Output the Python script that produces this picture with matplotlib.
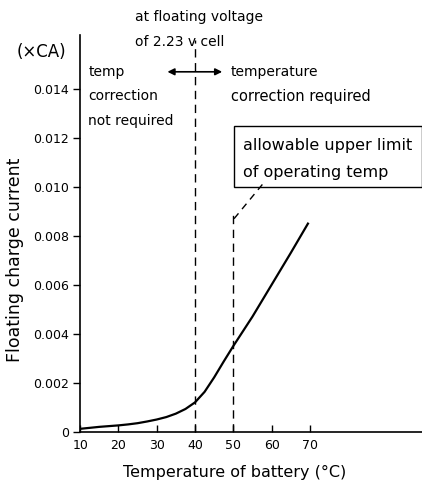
import matplotlib
matplotlib.use("Agg")
import matplotlib.pyplot as plt
from matplotlib.patches import Rectangle

plt.rcParams['font.family'] = ['DejaVu Sans']

# curve
temps = [10, 12.5, 15, 17.5, 20, 22.5, 25, 27.5, 30, 32.5, 35, 37.5, 40,
         42.5, 45, 47.5, 50, 52.5, 55, 60, 65, 69.5]
current = [0.00012, 0.00016, 0.0002, 0.00023, 0.00026, 0.0003, 0.00035,
           0.00042, 0.0005, 0.0006, 0.00074, 0.00093, 0.0012, 0.00163,
           0.00222, 0.00287, 0.0035, 0.0041, 0.0047, 0.006, 0.0073, 0.0085]

xticks = [10, 20, 30, 40, 50, 60, 70]
yticks = [0, 0.002, 0.004, 0.006, 0.008, 0.010, 0.012, 0.014]
ytick_labels = ["0", "0.002", "0.004", "0.006", "0.008", "0.010", "0.012", "0.014"]

fig = plt.figure(figsize=(4.22, 4.94), dpi=100)
ax = fig.add_axes([0.19, 0.126, 0.81, 0.803])

ax.plot(temps, current, color='black', lw=1.6)

ax.set_xlim(10, 99.3)
ax.set_ylim(0, 0.0162)
ax.spines['top'].set_visible(False)
ax.spines['right'].set_visible(False)
ax.spines['left'].set_linewidth(1.2)
ax.spines['bottom'].set_linewidth(1.2)

ax.set_xticks(xticks)
ax.set_xticklabels([str(t) for t in xticks], fontsize=9)
ax.set_yticks(yticks)
ax.set_yticklabels(ytick_labels, fontsize=9)
ax.tick_params(axis='x', direction='in', length=5, width=1, pad=5)
ax.tick_params(axis='y', direction='out', length=5, width=1, pad=3)

ax.set_xlabel("Temperature of battery (°C)", fontsize=11.5)
ax.set_ylabel("Floating charge current", fontsize=12.5)
ax.xaxis.set_label_coords(0.453, -0.085)
ax.yaxis.set_label_coords(-0.165, 0.433)

# dashed guide lines
ax.plot([40, 40], [0, 0.0160], color='black', lw=1, ls=(0, (6, 4)), clip_on=False)
ax.plot([50, 50], [0, 0.0089], color='black', lw=1, ls=(0, (6, 4)))
ax.plot([50.2, 57.6], [0.0087, 0.0101], color='black', lw=1, ls=(0, (5, 4)))

# box annotation
ax.add_patch(Rectangle((50.3, 0.0100), 49.0, 0.0125 - 0.0100, fill=False,
                       lw=1, ec='black', clip_on=False))
ax.text(52.5, 0.0117, "allowable upper limit", fontsize=11.5, va='center')
ax.text(52.5, 0.0106, "of operating temp", fontsize=11.5, va='center')

# region annotations
ax.text(12.1, 0.0147, "temp", fontsize=10, va='center')
ax.text(12.1, 0.0137, "correction", fontsize=10, va='center')
ax.text(12.1, 0.0127, "not required", fontsize=10, va='center')
ax.annotate("", xy=(32.8, 0.0147), xytext=(47.1, 0.0147),
            arrowprops=dict(arrowstyle='<|-|>', color='black', lw=1.2,
                            mutation_scale=10, shrinkA=0, shrinkB=0))
ax.text(49.3, 0.0147, "temperature", fontsize=10, va='center')
ax.text(49.3, 0.0137, "correction required", fontsize=10.5, va='center')

ax.text(24.4, 0.01694, "at floating voltage", fontsize=10, va='center', clip_on=False)
ax.text(24.4, 0.01592, "of 2.23 v cell", fontsize=10, va='center', clip_on=False)
fig.text(0.04, (494 - 52) / 494, "(×CA)", fontsize=12, va='center')

fig.savefig("out.png", dpi=100)
